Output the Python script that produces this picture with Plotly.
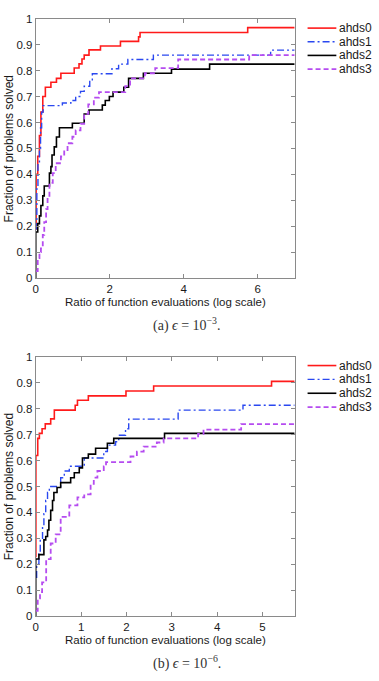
import plotly.graph_objects as go

# ---------------- data ----------------
series_names = ["ahds0", "ahds1", "ahds2", "ahds3"]

# (a) eps = 1e-3
a_ahds0_x = [0, 0.01, 0.054, 0.1, 0.14, 0.19, 0.26, 0.41, 0.56, 0.68, 1.04, 1.17, 1.25, 1.31, 1.44, 1.75, 2.29, 2.78, 2.82, 5.73, 7.0]
a_ahds0_y = [0.19, 0.40, 0.47, 0.55, 0.64, 0.70, 0.736, 0.755, 0.77, 0.79, 0.81, 0.826, 0.845, 0.86, 0.88, 0.895, 0.913, 0.93, 0.947, 0.966, 0.966]

a_ahds1_x = [0, 0.03, 0.06, 0.1, 0.13, 0.16, 0.2, 0.72, 0.95, 1.08, 1.21, 1.31, 1.46, 1.53, 2.06, 2.24, 2.49, 3.18, 6.35, 7.0]
a_ahds1_y = [0.19, 0.35, 0.44, 0.5, 0.58, 0.64, 0.665, 0.675, 0.685, 0.70, 0.72, 0.74, 0.765, 0.788, 0.807, 0.825, 0.843, 0.86, 0.879, 0.879]

a_ahds2_x = [0, 0, 0.054, 0.1, 0.14, 0.19, 0.23, 0.37, 0.41, 0.44, 0.5, 0.56, 0.64, 0.99, 1.31, 1.44, 1.80, 1.88, 1.99, 2.09, 2.38, 2.51, 2.91, 3.67, 4.70, 7.0]
a_ahds2_y = [0, 0.178, 0.21, 0.24, 0.28, 0.317, 0.355, 0.405, 0.43, 0.475, 0.506, 0.544, 0.58, 0.597, 0.633, 0.648, 0.667, 0.685, 0.70, 0.717, 0.736, 0.77, 0.79, 0.806, 0.825, 0.825]

a_ahds3_x = [0, 0.054, 0.1, 0.14, 0.19, 0.23, 0.28, 0.32, 0.37, 0.46, 0.54, 0.68, 0.77, 0.86, 0.99, 1.08, 1.21, 1.31, 1.42, 1.57, 1.71, 2.42, 2.55, 2.95, 3.23, 3.85, 5.77, 7.0]
a_ahds3_y = [0.027, 0.077, 0.10, 0.115, 0.167, 0.216, 0.266, 0.317, 0.367, 0.405, 0.443, 0.469, 0.494, 0.52, 0.545, 0.57, 0.595, 0.633, 0.67, 0.696, 0.717, 0.74, 0.77, 0.79, 0.81, 0.843, 0.86, 0.86]

# (b) eps = 1e-6
b_ahds0_x = [0, 0.003, 0.044, 0.08, 0.14, 0.21, 0.33, 0.41, 0.87, 0.92, 1.16, 1.99, 2.6, 5.2, 5.71]
b_ahds0_y = [0.23, 0.62, 0.686, 0.705, 0.723, 0.742, 0.761, 0.795, 0.814, 0.833, 0.85, 0.869, 0.888, 0.906, 0.906]

b_ahds1_x = [0, 0.02, 0.07, 0.1, 0.15, 0.18, 0.22, 0.26, 0.30, 0.55, 0.63, 0.74, 1.07, 1.50, 1.58, 1.76, 1.83, 1.98, 2.05, 3.14, 4.57, 5.71]
b_ahds1_y = [0.15, 0.2, 0.24, 0.3, 0.345, 0.395, 0.446, 0.477, 0.5, 0.534, 0.56, 0.578, 0.61, 0.635, 0.66, 0.673, 0.698, 0.723, 0.76, 0.795, 0.814, 0.814]

b_ahds2_x = [0, 0, 0.07, 0.18, 0.22, 0.26, 0.29, 0.33, 0.37, 0.40, 0.47, 0.55, 0.77, 0.85, 0.96, 1.03, 1.16, 1.32, 1.58, 1.72, 2.84, 5.71]
b_ahds2_y = [0, 0.22, 0.237, 0.294, 0.307, 0.332, 0.37, 0.408, 0.446, 0.477, 0.496, 0.515, 0.534, 0.553, 0.572, 0.61, 0.625, 0.648, 0.667, 0.686, 0.705, 0.705]

b_ahds3_x = [0, 0.044, 0.094, 0.14, 0.23, 0.33, 0.44, 0.55, 0.74, 0.92, 1.07, 1.21, 1.28, 1.36, 1.50, 1.55, 2.09, 2.23, 2.38, 2.67, 2.82, 3.58, 3.7, 4.53, 5.71]
b_ahds3_y = [0.02, 0.068, 0.092, 0.13, 0.22, 0.28, 0.315, 0.383, 0.427, 0.458, 0.47, 0.51, 0.534, 0.56, 0.578, 0.594, 0.616, 0.635, 0.654, 0.67, 0.686, 0.703, 0.72, 0.741, 0.741]

a_xticks = [0, 2, 4, 6]
b_xticks = [0, 1, 2, 3, 4, 5]
y_ticks = [0, 0.1, 0.2, 0.3, 0.4, 0.5, 0.6, 0.7, 0.8, 0.9, 1]
y_ticklabels = ["0", "0.1", "0.2", "0.3", "0.4", "0.5", "0.6", "0.7", "0.8", "0.9", "1"]
a_xrange = [0, 7]
b_xrange = [0, 5.71]

x_title = "Ratio of function evaluations (log scale)"
y_title = "Fraction of problems solved"
caption_a = "(a) <i>ϵ</i> = 10<sup>−3</sup>."
caption_b = "(b) <i>ϵ</i> = 10<sup>−6</sup>."

# ---------------- styles ----------------
colors = ["#ff1a1a", "#2a48f0", "#000000", "#b54cf0"]
dashes = ["solid", "7px,3px,2px,3px", "solid", "5px,3px"]
widths = [1.6, 1.4, 1.6, 1.8]

W, H = 379, 681
def PX(px):
    return px / W
def PY(py):
    return 1 - py / H

SANS = "Liberation Sans, Arial, Helvetica, sans-serif"
SERIF = "Liberation Serif, DejaVu Serif, serif"
AXC = "#8a8a8a"

fig = go.Figure()

a_sets = [(a_ahds0_x, a_ahds0_y), (a_ahds1_x, a_ahds1_y), (a_ahds2_x, a_ahds2_y), (a_ahds3_x, a_ahds3_y)]
b_sets = [(b_ahds0_x, b_ahds0_y), (b_ahds1_x, b_ahds1_y), (b_ahds2_x, b_ahds2_y), (b_ahds3_x, b_ahds3_y)]

for i, (xs, ys) in enumerate(a_sets):
    fig.add_trace(go.Scatter(x=xs, y=ys, mode="lines", name=series_names[i],
                             line=dict(shape="hv", color=colors[i], dash=dashes[i], width=widths[i]),
                             xaxis="x", yaxis="y", showlegend=False))
for i, (xs, ys) in enumerate(b_sets):
    fig.add_trace(go.Scatter(x=xs, y=ys, mode="lines", name=series_names[i],
                             line=dict(shape="hv", color=colors[i], dash=dashes[i], width=widths[i]),
                             xaxis="x2", yaxis="y2", showlegend=False))

X_DOM = [PX(33), PX(294)]
TOP_DOM = [PY(277), PY(13)]
BOT_DOM = [PY(621), PY(357.3)]

axis_common = dict(showline=True, mirror="ticks", linecolor=AXC, linewidth=1,
                   ticks="inside", ticklen=4, tickcolor=AXC, tickwidth=1,
                   showgrid=False, zeroline=False,
                   tickfont=dict(family=SANS, size=11.5, color="#1a1a1a"))

fig.update_layout(
    width=W, height=H, autosize=False,
    margin=dict(l=0, r=0, t=0, b=0),
    paper_bgcolor="white", plot_bgcolor="white",
    showlegend=False,
    xaxis=dict(domain=X_DOM, anchor="y", range=a_xrange, tickvals=a_xticks,
               ticktext=[str(v) for v in a_xticks], **axis_common),
    yaxis=dict(domain=TOP_DOM, anchor="x", range=[0, 1], tickvals=y_ticks,
               ticktext=y_ticklabels, **axis_common),
    xaxis2=dict(domain=X_DOM, anchor="y2", range=b_xrange, tickvals=b_xticks,
                ticktext=[str(v) for v in b_xticks], **axis_common),
    yaxis2=dict(domain=BOT_DOM, anchor="x2", range=[0, 1], tickvals=y_ticks,
                ticktext=y_ticklabels, **axis_common),
)

annotations = []
shapes = []

def text_ann(x, y, text, size=12, family=SANS, xanchor="center", angle=0, color="#1a1a1a"):
    annotations.append(dict(x=x, y=y, xref="paper", yref="paper", text=text, showarrow=False,
                            xanchor=xanchor, yanchor="middle", textangle=angle, borderpad=0,
                            font=dict(family=family, size=size, color=color)))

# axis titles
text_ann(PX(163.5), PY(301), x_title, size=11.5)
text_ann(PX(163.5), PY(645), x_title, size=11.5)
text_ann(PX(6), PY(145), y_title, angle=-90)
text_ann(PX(6), PY(489), y_title, angle=-90)

# captions
text_ann(PX(185), PY(324), caption_a, size=14, family=SERIF, color="#333333")
text_ann(PX(185), PY(668), caption_b, size=14, family=SERIF, color="#333333")

# legends (one per panel)
for top, gap in [(22.5, 13.9), (366, 14.1)]:
    for i, name in enumerate(series_names):
        yy = PY(top + gap * i)
        shapes.append(dict(type="line", xref="paper", yref="paper",
                           x0=PX(307), x1=PX(336), y0=yy, y1=yy,
                           line=dict(color=colors[i], dash=dashes[i], width=widths[i])))
        text_ann(PX(338), yy, name, xanchor="left")

fig.update_layout(annotations=annotations, shapes=shapes)

fig.write_html("out.html")
